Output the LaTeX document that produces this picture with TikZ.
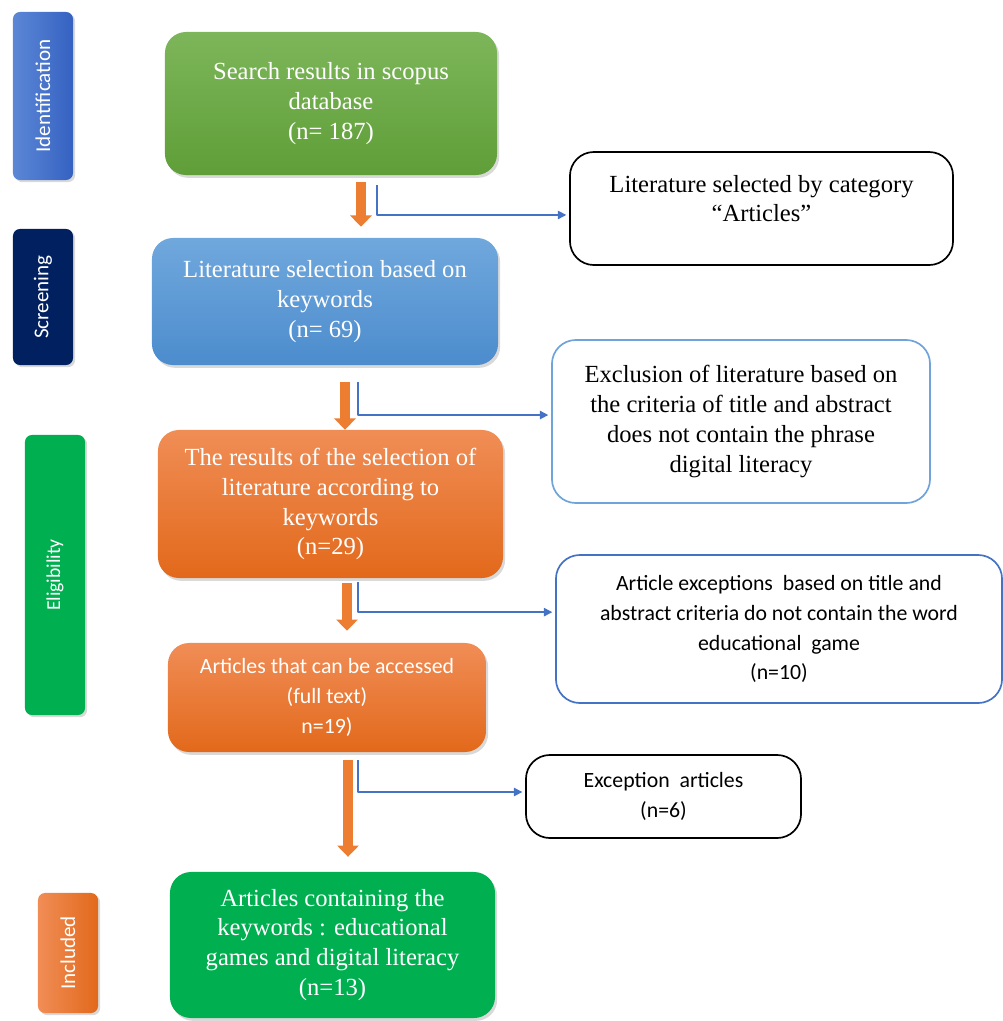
\documentclass[tikz,border=0pt]{standalone}
\usepackage{graphicx}
\usepackage{fontspec}
\setmainfont{Liberation Serif}
\newfontfamily\calib{Carlito}
\usetikzlibrary{arrows.meta,shadows}
\definecolor{grnA}{HTML}{7DB65A}
\definecolor{grnB}{HTML}{5F9E38}
\definecolor{bluA}{HTML}{70A8DD}
\definecolor{bluB}{HTML}{4C8CCD}
\definecolor{orgA}{HTML}{F08D56}
\definecolor{orgB}{HTML}{E2691B}
\definecolor{grnC}{HTML}{00AF50}
\definecolor{navy}{HTML}{002060}
\definecolor{tagA}{HTML}{5C87D6}
\definecolor{tagB}{HTML}{3562C2}
\definecolor{lnk}{HTML}{4472C4}
\definecolor{lbl}{HTML}{6FA3DA}
\definecolor{orng}{HTML}{ED7D31}
\tikzset{
  box/.style={rounded corners=15pt,inner sep=0pt,align=center,text=white,
    drop shadow={shadow xshift=1.5pt,shadow yshift=-2pt,opacity=.3},
    font=\fontsize{17.5}{21.3}\selectfont},
  sbox/.style={rounded corners=17pt,inner sep=0pt,align=center,fill=white,
    line width=1.2pt,font=\fontsize{17.5}{21.3}\selectfont},
  tag/.style={rounded corners=5pt,inner sep=0pt,minimum width=1.5cm,
    text=white,font=\calib\fontsize{15}{17}\selectfont,
    drop shadow={shadow xshift=1.5pt,shadow yshift=-1.5pt,opacity=.3}},
  oarr/.style={draw=orng,line width=7pt,-{Triangle[width=15pt,length=8pt]}},
  barr/.style={draw=lnk,line width=1pt,-{Triangle[width=6pt,length=6pt]},shorten >=2pt},
}
\begin{document}
\begin{tikzpicture}[x=0.025cm,y=-0.025cm,line join=round]
	%==khung hinh
	\useasboundingbox (0,0) rectangle (1003,1021);
	%==cac khoi chinh
	\node[box,top color=grnA,bottom color=grnB,minimum width=8.3cm,minimum height=3.575cm] (srch) at (331,103.5) {Search results in scopus\\database\\(n= 187)};
	\node[box,top color=bluA,bottom color=bluB,minimum width=8.65cm,minimum height=3.175cm] (scrn) at (325,301.5) {Literature selection based on\\keywords\\(n= 69)};
	\node[box,top color=orgA,bottom color=orgB,minimum width=8.625cm,minimum height=3.7cm] (sel) at (330.5,504) {The results of the selection of\\literature according to\\keywords\\(n=29)};
	\node[box,top color=orgA,bottom color=orgB,minimum width=7.95cm,minimum height=2.725cm,font=\calib\fontsize{15.5}{21.3}\selectfont] (acc) at (327,697.5) {Articles that can be accessed\\(full text)\\n=19)};
	\node[box,fill=grnC,minimum width=8.125cm,minimum height=3.65cm] (incl) at (332.5,945) {Articles containing the\\keywords : educational\\games and digital literacy\\(n=13)};
	%==cac khoi ben phai
	\node[sbox,draw=black,minimum width=9.575cm,minimum height=2.825cm] (cat) at (761.5,208.5) {Literature selected by category\\“Articles”\\[-7pt]\mbox{}};
	\node[sbox,draw=lbl,minimum width=9.45cm,minimum height=4.075cm] (excl) at (741,421.5) {Exclusion of literature based on\\the criteria of title and abstract\\does not contain the phrase\\digital literacy};
	\node[sbox,draw=lnk,minimum width=11.15cm,minimum height=3.7cm,font=\calib\fontsize{15.5}{21.3}\selectfont] (exc) at (779,629) {Article exceptions\ \ based on title and\\abstract criteria do not contain the word\\educational\ \ game\\(n=10)};
	\node[sbox,draw=black,minimum width=6.875cm,minimum height=2.075cm,font=\calib\fontsize{15.5}{21.3}\selectfont] (exn) at (663.5,796.5) {Exception\ \ articles\\(n=6)};
	%==nhan giai doan
	\node[tag,left color=tagA,right color=tagB,minimum height=4.2cm] (idn) at (43,96) {\rotatebox{90}{Identification}};
	\node[tag,fill=navy,minimum height=3.4cm] (scr) at (43,297) {\rotatebox{90}{Screening}};
	\node[tag,fill=grnC,minimum height=7cm,font=\calib\fontsize{14}{16}\selectfont] (elg) at (55,575) {\rotatebox{90}{Eligibility}};
	\node[tag,left color=orgA,right color=orgB,minimum height=3cm] (inc) at (68,953) {\rotatebox{90}{Included}};
	%==mui ten
	\foreach \x/\y/\q/\s in {361/182/scrn/7.8,345/382/sel/0,347/583/acc/8.5,348/760/incl/10.6}
	\draw[oarr,shorten >=\s pt] (\x,\y) coordinate(o) -- (o |- \q.north);
	\foreach \x/\y/\q/\s in {377/185/cat/-4.6,358/382/excl/4.6,358/582/exc/12,358/760/exn/3.2}
	\draw[barr] (\x,\y) coordinate(b) |- ([yshift=\s pt]\q.west);
\end{tikzpicture}
\end{document}
